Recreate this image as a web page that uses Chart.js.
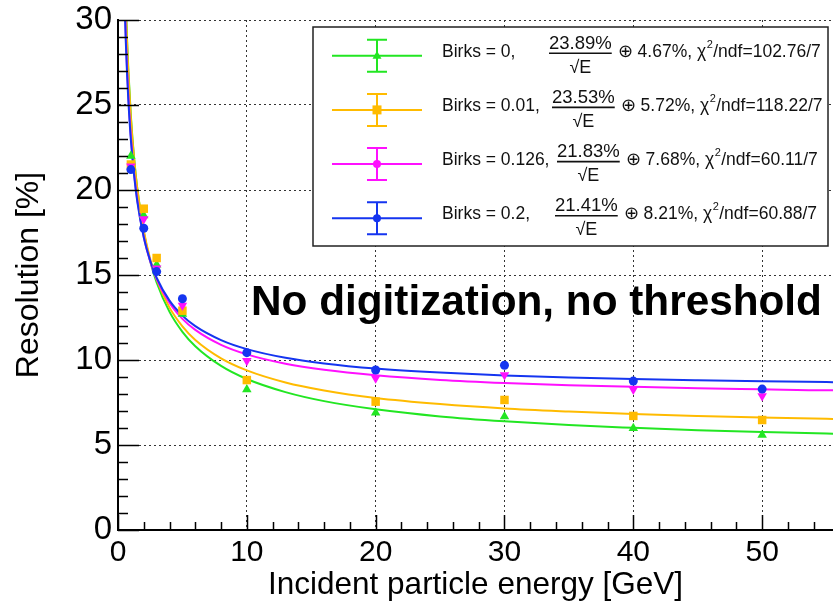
<!DOCTYPE html>
<html>
<head>
<meta charset="utf-8">
<script src="https://cdn.jsdelivr.net/npm/chart.js@4.4.1/dist/chart.umd.min.js"></script>
<style>
  html, body { margin: 0; padding: 0; background: #fff; }
  #wrap { width: 833px; height: 607px; }
</style>
</head>
<body>
<div id="wrap"><canvas id="c" width="833" height="607"></canvas></div>
<script>
// measured points (energy in GeV, resolution in %)
const energies = [1, 2, 3, 5, 10, 20, 30, 40, 50];
const resBirks0 = [22.0, 18.5, 15.6, 12.7, 8.27, 6.90, 6.67, 5.98, 5.59];
const resBirks001 = [21.5, 18.9, 16.0, 12.9, 8.82, 7.55, 7.65, 6.71, 6.47];
const resBirks0126 = [21.4, 18.3, 15.4, 13.2, 9.96, 8.92, 9.12, 8.27, 7.88];
const resBirks02 = [21.2, 17.75, 15.2, 13.6, 10.43, 9.41, 9.69, 8.76, 8.29];

// fit curves
const fitEnergies = [0.5, 0.6, 0.7, 0.8, 1, 1.25, 1.5, 2, 2.5, 3, 4, 5, 6, 8, 10, 13, 16, 20, 25, 30, 35, 40, 45, 50, 55, 56];
const fitBirks0 = [34.1, 31.19, 28.93, 27.11, 24.34, 21.87, 20.06, 17.53, 15.81, 14.56, 12.83, 11.66, 10.81, 9.65, 8.88, 8.11, 7.58, 7.10, 6.68, 6.39, 6.17, 6.01, 5.87, 5.76, 5.67, 5.66];
const fitBirks001 = [33.77, 30.91, 28.70, 26.92, 24.22, 21.81, 20.05, 17.60, 15.94, 14.74, 13.08, 11.98, 11.18, 10.10, 9.39, 8.68, 8.21, 7.77, 7.41, 7.15, 6.97, 6.82, 6.71, 6.62, 6.54, 6.53];
const fitBirks0126 = [31.81, 29.21, 27.20, 25.59, 23.14, 20.98, 19.41, 17.24, 15.80, 14.76, 13.35, 12.42, 11.77, 10.89, 10.33, 9.78, 9.42, 9.10, 8.83, 8.65, 8.52, 8.42, 8.34, 8.28, 8.22, 8.22];
const fitBirks02 = [31.37, 28.83, 26.88, 25.31, 22.93, 20.84, 19.31, 17.22, 15.84, 14.84, 13.49, 12.61, 11.99, 11.17, 10.64, 10.13, 9.80, 9.50, 9.26, 9.09, 8.97, 8.88, 8.81, 8.75, 8.70, 8.69];

// legend text
const legendLabels = ["Birks = 0,", "Birks = 0.01,", "Birks = 0.126,", "Birks = 0.2,"];
const legendStoch = ["23.89%", "23.53%", "21.83%", "21.41%"];
const legendConst = ["4.67%", "5.72%", "7.68%", "8.21%"];
const legendChi2 = ["102.76/7", "118.22/7", "60.11/7", "60.88/7"];

const GREEN = "#22e622";
const ORANGE = "#ffbb00";
const MAGENTA = "#ff10ff";
const BLUE = "#1535f0";
const FONT = "'Liberation Sans', Arial, sans-serif";

const xyPairs = (xs, ys) => xs.map((x, i) => ({ x: x, y: ys[i] }));

function pointSet(label, ys, color, style, radius, rotation) {
  return {
    label: label,
    data: xyPairs(energies, ys),
    showLine: false,
    pointStyle: style,
    pointRadius: radius,
    pointRotation: rotation || 0,
    pointBackgroundColor: color,
    pointBorderColor: color,
    pointBorderWidth: 0,
  };
}

function fitSet(label, ys, color) {
  return {
    label: label,
    data: xyPairs(fitEnergies, ys),
    showLine: true,
    borderColor: color,
    borderWidth: 2,
    pointRadius: 0,
    cubicInterpolationMode: "monotone",
  };
}

// inward tick marks, ROOT style
const innerTicks = {
  id: "innerTicks",
  afterDraw(chart) {
    const { ctx, chartArea, scales } = chart;
    const xs = scales.x, ys = scales.y;
    ctx.save();
    ctx.strokeStyle = "#000";
    ctx.lineWidth = 1.5;
    ctx.beginPath();
    for (let v = 0; v <= xs.max; v += 2) {
      const px = Math.round(xs.getPixelForValue(v)) + 0.5;
      const len = v % 10 === 0 ? 15 : 8;
      ctx.moveTo(px, chartArea.bottom);
      ctx.lineTo(px, chartArea.bottom - len);
    }
    for (let v = 0; v <= ys.max; v += 1) {
      const py = Math.round(ys.getPixelForValue(v)) + 0.5;
      const len = v % 5 === 0 ? 21 : 10;
      ctx.moveTo(chartArea.left, py);
      ctx.lineTo(chartArea.left + len, py);
    }
    ctx.stroke();
    ctx.restore();
  }
};

// fit legend box and the label in the plot
const fitLegend = {
  id: "fitLegend",
  afterDraw(chart) {
    const ctx = chart.ctx;
    const colors = [GREEN, ORANGE, MAGENTA, BLUE];
    const fracX = [549, 552, 557, 555];
    ctx.save();
    ctx.fillStyle = "#fff";
    ctx.fillRect(313, 27, 515, 219);
    ctx.strokeStyle = "#222";
    ctx.lineWidth = 1.5;
    ctx.strokeRect(313, 27, 515, 219);

    for (let i = 0; i < legendLabels.length; i++) {
      const cy = 55.7 + i * 54.2;
      const col = colors[i];
      ctx.strokeStyle = col;
      ctx.fillStyle = col;
      ctx.lineWidth = 2;
      ctx.beginPath();
      ctx.moveTo(332, cy); ctx.lineTo(422, cy);
      ctx.moveTo(377, cy - 16); ctx.lineTo(377, cy + 16);
      ctx.moveTo(367, cy - 16); ctx.lineTo(387, cy - 16);
      ctx.moveTo(367, cy + 16); ctx.lineTo(387, cy + 16);
      ctx.stroke();
      ctx.beginPath();
      if (i === 0) {
        ctx.moveTo(377, cy - 5); ctx.lineTo(381.5, cy + 3); ctx.lineTo(372.5, cy + 3);
      } else if (i === 1) {
        ctx.rect(372.5, cy - 4.5, 9, 9);
      } else {
        ctx.arc(377, cy, 4, 0, Math.PI * 2);
      }
      ctx.fill();

      ctx.fillStyle = "#111";
      ctx.strokeStyle = "#111";
      ctx.textBaseline = "middle";
      ctx.textAlign = "left";
      ctx.font = "17.5px " + FONT;
      ctx.fillText(legendLabels[i], 442, cy - 4);

      const fx = fracX[i];
      ctx.font = "18.5px " + FONT;
      const w = ctx.measureText(legendStoch[i]).width;
      ctx.fillText(legendStoch[i], fx, cy - 12);
      ctx.lineWidth = 1.6;
      ctx.beginPath();
      ctx.moveTo(fx, cy - 2.5); ctx.lineTo(fx + w, cy - 2.5);
      ctx.stroke();
      ctx.textAlign = "center";
      ctx.font = "18px " + FONT;
      ctx.fillText("\u221AE", fx + w / 2, cy + 12);

      ctx.textAlign = "left";
      ctx.font = "17.5px " + FONT;
      let x = fx + w + 6;
      const head = "\u2295 " + legendConst[i] + ", \u03C7";
      ctx.fillText(head, x, cy - 4);
      x += ctx.measureText(head).width;
      ctx.font = "11px " + FONT;
      ctx.fillText("2", x + 0.5, cy - 11);
      x += ctx.measureText("2").width + 1;
      ctx.font = "17.5px " + FONT;
      ctx.fillText("/ndf=" + legendChi2[i], x, cy - 4);
    }

    // big annotation, fitted to its width in the reference
    const note = "No digitization, no threshold";
    ctx.font = "bold 39px " + FONT;
    const nw = ctx.measureText(note).width;
    const size = 39 * 571 / nw;
    ctx.font = "bold " + size.toFixed(1) + "px " + FONT;
    ctx.fillStyle = "#000";
    ctx.textBaseline = "alphabetic";
    ctx.fillText(note, 251, 315);
    ctx.restore();
  }
};

new Chart(document.getElementById("c"), {
  type: "scatter",
  data: {
    datasets: [
      pointSet("Birks = 0.2", resBirks02, BLUE, "circle", 4.5),
      pointSet("Birks = 0.126", resBirks0126, MAGENTA, "triangle", 5.5, 180),
      pointSet("Birks = 0.01", resBirks001, ORANGE, "rect", 6),
      pointSet("Birks = 0", resBirks0, GREEN, "triangle", 5.5),
      fitSet("fit Birks = 0.2", fitBirks02, BLUE),
      fitSet("fit Birks = 0.126", fitBirks0126, MAGENTA),
      fitSet("fit Birks = 0.01", fitBirks001, ORANGE),
      fitSet("fit Birks = 0", fitBirks0, GREEN),
    ]
  },
  options: {
    responsive: false,
    animation: false,
    devicePixelRatio: 1,
    layout: { autoPadding: false, padding: { top: 20, right: 0, bottom: 0, left: 0 } },
    plugins: { legend: { display: false }, tooltip: { enabled: false } },
    scales: {
      x: {
        type: "linear",
        min: 0,
        max: 55.5,
        afterFit(s) { s.height = 77; s.paddingLeft = 0; s.paddingRight = 0; },
        ticks: {
          stepSize: 10,
          includeBounds: false,
          maxRotation: 0,
          padding: 5,
          color: "#000",
          font: { family: FONT, size: 30 },
        },
        grid: { color: "#333", lineWidth: 1, drawTicks: false },
        border: { display: true, color: "#000", width: 2, dash: [2, 3] },
        title: {
          display: true,
          text: "Incident particle energy [GeV]",
          color: "#000",
          padding: { top: 0, bottom: 3 },
          font: { family: FONT, size: 31.5 },
        },
      },
      y: {
        min: 0,
        max: 30,
        afterFit(s) { s.width = 118; s.paddingTop = 0; s.paddingBottom = 0; },
        ticks: {
          stepSize: 5,
          padding: 6,
          color: "#000",
          font: { family: FONT, size: 33 },
        },
        grid: { color: "#333", lineWidth: 1, drawTicks: false },
        border: { display: true, color: "#000", width: 2, dash: [2, 3] },
        title: {
          display: true,
          text: "Resolution [%]",
          color: "#000",
          padding: { top: 10, bottom: 0 },
          font: { family: FONT, size: 32 },
        },
      },
    },
  },
  plugins: [innerTicks, fitLegend],
});
</script>
</body>
</html>
